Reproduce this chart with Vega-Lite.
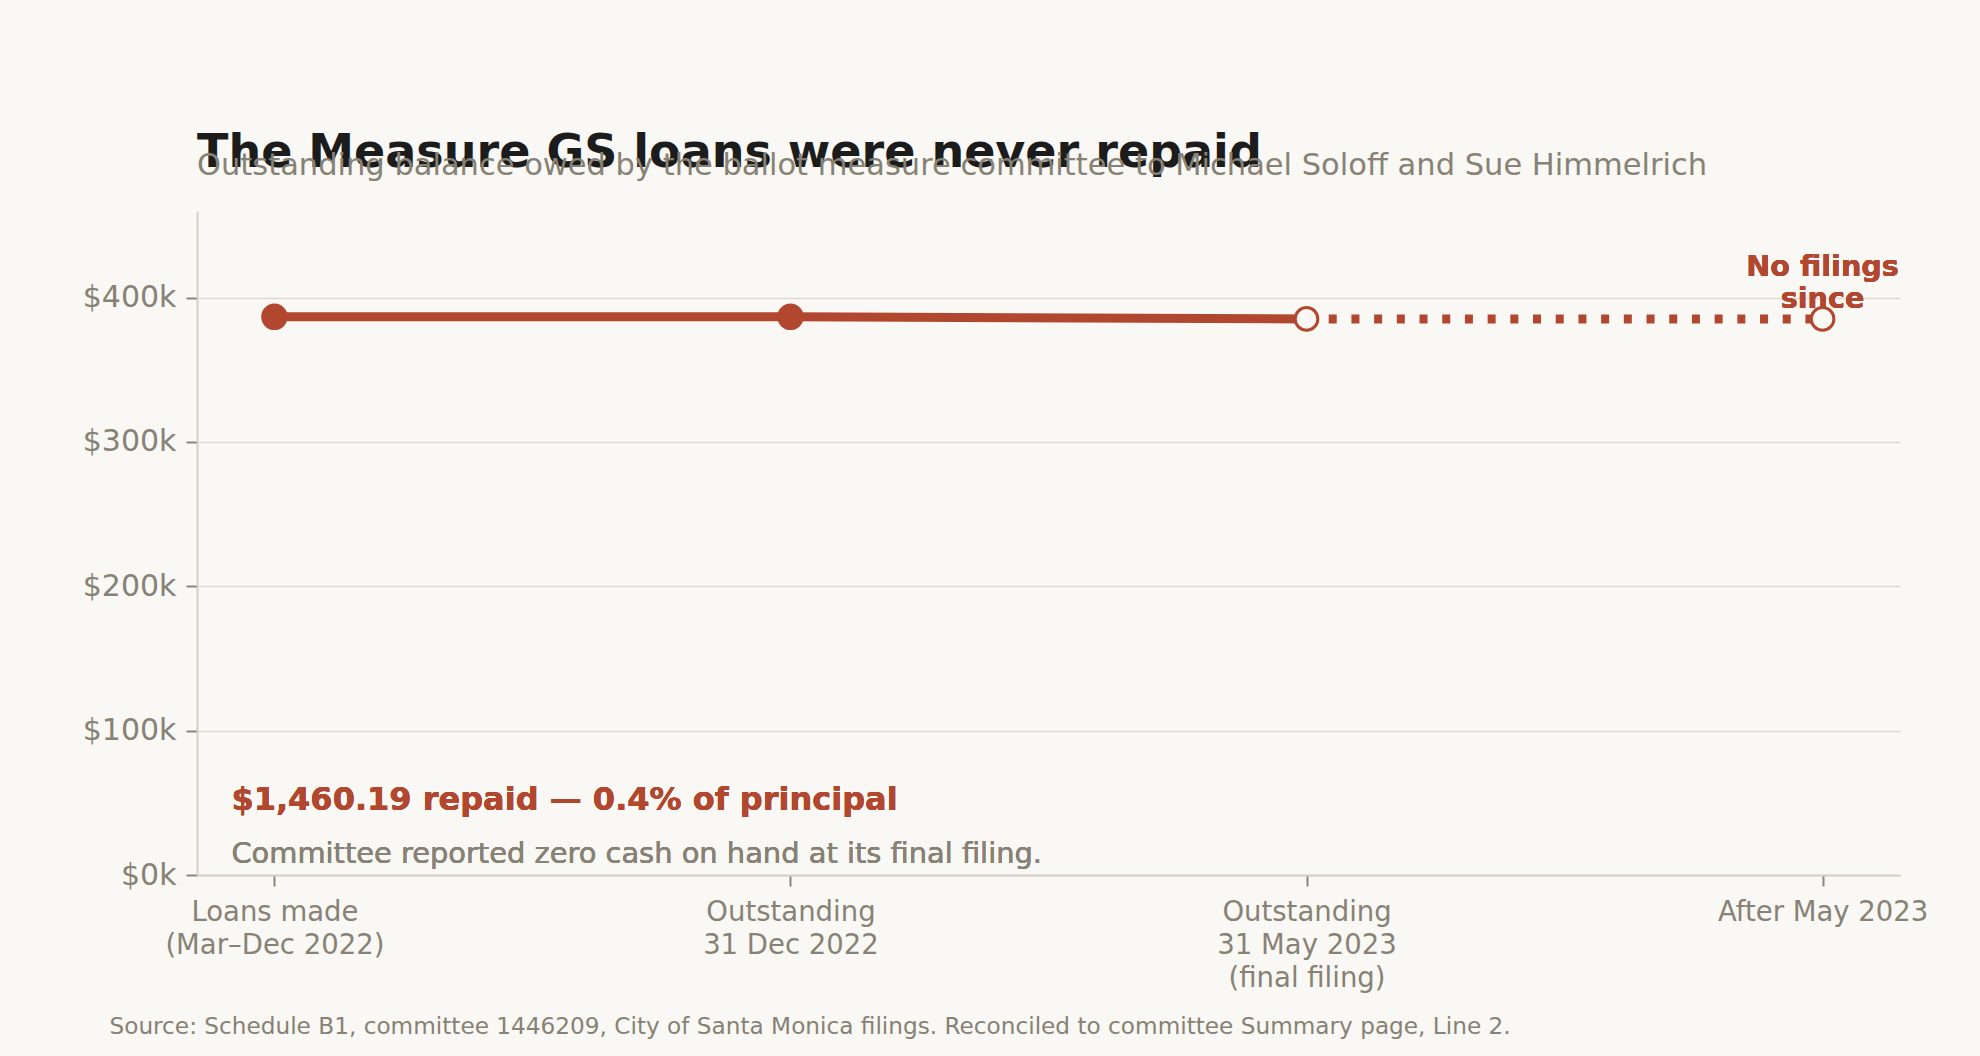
{
  "$schema": "https://vega.github.io/schema/vega-lite/v6.json",
  "autosize": "none",
  "width": 1703,
  "height": 664,
  "padding": {"left": 197, "top": 211, "right": 80, "bottom": 181},
  "background": "#f9f8f4",
  "title": {
    "text": "The Measure GS loans were never repaid",
    "subtitle": "Outstanding balance owed by the ballot measure committee to Michael Soloff and Sue Himmelrich",
    "anchor": "start",
    "frame": "group",
    "fontSize": 46,
    "fontWeight": "bold",
    "color": "#1c1c1c",
    "subtitleFontSize": 30.5,
    "subtitleColor": "#878275",
    "subtitlePadding": -26,
    "offset": 29
  },
  "data": {
    "values": [
      {"stage": "Loans made\n(Mar–Dec 2022)", "order": 1, "balance": 386700},
      {"stage": "Outstanding\n31 Dec 2022", "order": 2, "balance": 386700},
      {"stage": "Outstanding\n31 May 2023\n(final filing)", "order": 3, "balance": 385240},
      {"stage": "After May 2023", "order": 4, "balance": 385240}
    ]
  },
  "encoding": {
    "x": {
      "field": "stage",
      "type": "nominal",
      "sort": null,
      "scale": {"type": "point", "padding": 0.15},
      "axis": {
        "labelExpr": "split(datum.label, '\\n')",
        "labelAngle": 0,
        "labelLimit": 0,
        "labelFontSize": 27.5,
        "labelColor": "#878275",
        "labelLineHeight": 33,
        "labelPadding": 12,
        "tickSize": 11,
        "tickColor": "#8a8577",
        "tickWidth": 2,
        "domainColor": "#d6d0c4",
        "domainWidth": 2,
        "grid": false,
        "title": "Source: Schedule B1, committee 1446209, City of Santa Monica filings. Reconciled to committee Summary page, Line 2.",
        "titleFontSize": 23.2,
        "titleFontWeight": "normal",
        "titleColor": "#878275",
        "titleAnchor": "start",
        "titleAlign": "left",
        "titleBaseline": "alphabetic",
        "titleX": -88,
        "titleY": 158
      }
    },
    "y": {
      "field": "balance",
      "type": "quantitative",
      "scale": {"domain": [0, 460000], "nice": false},
      "axis": {
        "values": [0, 100000, 200000, 300000, 400000],
        "labelExpr": "'$' + format(datum.value / 1000, 'd') + 'k'",
        "labelFontSize": 30,
        "labelColor": "#878275",
        "labelPadding": 10,
        "tickSize": 11,
        "tickColor": "#8a8577",
        "tickWidth": 2,
        "domainColor": "#d6d0c4",
        "domainWidth": 2,
        "gridColor": "#dedad0",
        "gridWidth": 1.5,
        "title": null
      }
    }
  },
  "layer": [
    {
      "transform": [{"filter": "datum.order <= 3"}],
      "mark": {"type": "line", "color": "#b2472f", "strokeWidth": 9}
    },
    {
      "transform": [{"filter": "datum.order >= 3"}],
      "mark": {"type": "line", "color": "#b2472f", "strokeWidth": 9, "strokeDash": [8, 14.7], "strokeDashOffset": 0.5}
    },
    {
      "mark": {"type": "text", "align": "left", "baseline": "alphabetic", "dx": -43, "fontSize": 32, "fontWeight": "bold", "color": "#b2472f", "text": "$1,460.19 repaid — 0.4% of principal"},
      "encoding": {"x": {"datum": "Loans made\n(Mar–Dec 2022)"}, "y": {"datum": 45000}}
    },
    {
      "mark": {"type": "text", "align": "left", "baseline": "alphabetic", "dx": -43, "dy": 53, "fontSize": 28.9, "color": "#878275", "text": "Committee reported zero cash on hand at its final filing."},
      "encoding": {"x": {"datum": "Loans made\n(Mar–Dec 2022)"}, "y": {"datum": 45000}}
    },
    {
      "mark": {"type": "text", "align": "center", "baseline": "alphabetic", "dy": -43, "fontSize": 28.7, "fontWeight": "bold", "color": "#b2472f", "lineHeight": 32, "text": ["No filings", "since"]},
      "encoding": {"x": {"datum": "After May 2023"}, "y": {"datum": 385240}}
    },
    {
      "transform": [{"filter": "datum.order <= 2"}],
      "mark": {"type": "circle", "size": 700, "color": "#b2472f", "opacity": 1}
    },
    {
      "transform": [{"filter": "datum.order >= 3"}],
      "mark": {"type": "point", "shape": "circle", "size": 510, "filled": true, "fill": "#f9f8f4", "stroke": "#b2472f", "strokeWidth": 3, "opacity": 1}
    }
  ],
  "config": {
    "font": "DejaVu Sans",
    "view": {"stroke": null}
  }
}
